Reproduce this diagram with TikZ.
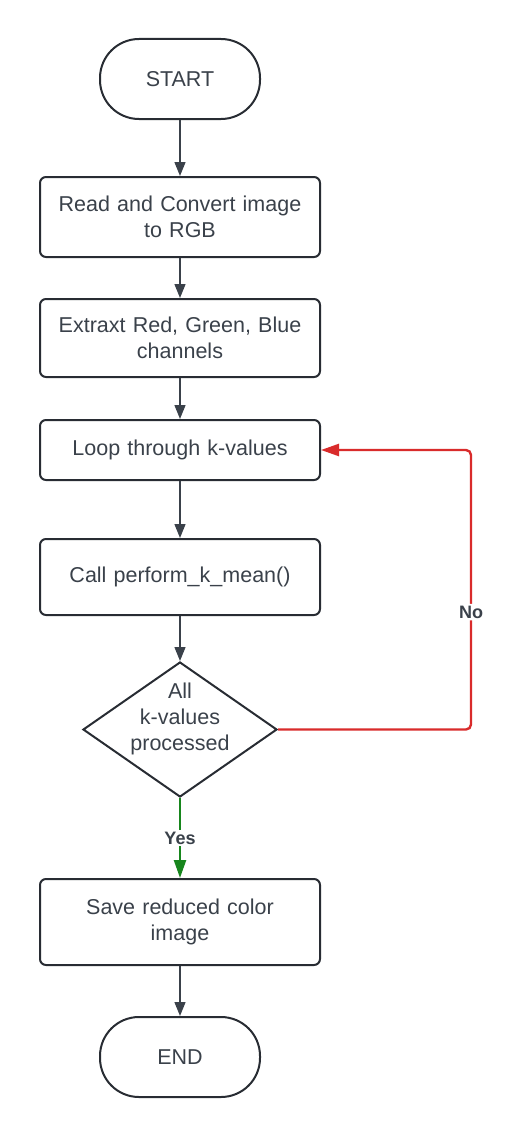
\documentclass[tikz,border=0pt]{standalone}
\usepackage{fontspec}
\setmainfont{Liberation Sans}
\usepackage{tikz}
\usetikzlibrary{shapes,arrows.meta,positioning,calc}

\definecolor{inkgray}{HTML}{3A414A}
\definecolor{edgegray}{HTML}{282C33}
\definecolor{noRed}{HTML}{D92B2B}
\definecolor{yesGreen}{HTML}{17861D}

\begin{document}
\begin{tikzpicture}[x=1pt, y=1pt,
    every node/.style={text=inkgray, font=\fontsize{21.5}{26}\selectfont},
    terminal/.style={draw=edgegray, line width=2pt, rounded corners=39pt,
        minimum width=160pt, minimum height=80pt},
    process/.style={draw=edgegray, line width=2pt, rounded corners=6pt,
        minimum width=280pt, text width=270pt, align=center},
    decision/.style={diamond, draw=edgegray, line width=2pt,
        minimum width=194pt, minimum height=135pt, inner sep=0pt},
    flow/.style={draw=inkgray, line width=1.4pt,
        -{Triangle[length=14pt,width=11pt]}},
    branch/.style={line width=2.4pt, -{Triangle[length=18pt,width=12pt]}},
    answer/.style={fill=white, inner sep=2pt,
        font=\fontsize{18}{22}\selectfont\bfseries}]

    \useasboundingbox (0,0) rectangle (522,-1140);

    % Steps
    \node[terminal] (start) at (180,-79) {START};
    \node[process, minimum height=80pt] (read) at (180,-217) {Read and Convert image\\to RGB};
    \node[process, minimum height=78pt] (extract) at (180,-338) {Extraxt Red, Green, Blue\\channels};
    \node[process, minimum height=60pt] (loop) at (180,-450) {Loop through k-values};
    \node[process, minimum height=76pt] (kmean) at (180,-577) {Call perform\_k\_mean()};

    % Decision
    \node[decision] (check) at (180,-729.5) {};
    \node[align=center] (checklabel) at (180,-719) {All\\k-values\\processed};

    \node[process, minimum height=86pt] (save) at (180,-922) {Save reduced color\\image};
    \node[terminal] (finish) at (180,-1057) {END};

    % Main flow
    \draw[flow] (start) -- (read);
    \draw[flow] (read) -- (extract);
    \draw[flow] (extract) -- (loop);
    \draw[flow] (loop) -- (kmean);
    \draw[flow] (kmean) -- (check);
    \draw[flow] (save) -- (finish);

    % Branches
    \draw[branch, draw=yesGreen] (check.south) -- (save.north)
        node[answer, pos=0.5] {Yes};
    \draw[branch, draw=noRed, rounded corners=5pt] (check.east) -- ++(193,0)
        |- (loop.east) node[answer, pos=0.21] {No};
\end{tikzpicture}
\end{document}
